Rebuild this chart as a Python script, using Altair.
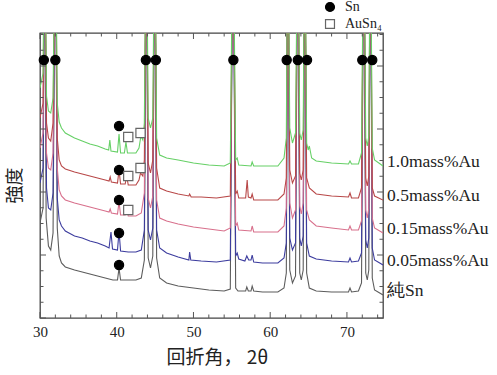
import altair as alt
import pandas as pd

# ---------------- data ----------------
series_names = ["純Sn", "0.05mass%Au", "0.15mass%Au", "0.5mass%Au", "1.0mass%Au"]
series_colors = ["#5c5c5c", "#3c3c9e", "#d8708c", "#b84848", "#66d066"]

# (2θ [deg], intensity [arb.])
pure_sn = [
    (30.0, 95), (30.4, 110), (30.6, 420), (30.8, 100), (31.1, 72), (31.4, 68), (31.7, 85),
    (32.0, 420), (32.25, 90), (32.5, 62), (32.8, 55), (33.3, 51), (34.5, 48), (35.5, 46),
    (36.5, 44), (37.5, 42), (38.5, 40), (39.5, 38), (40.1, 38), (40.3, 50), (40.5, 38),
    (41.5, 38), (42.5, 38), (43.2, 40), (43.6, 58), (43.85, 420), (44.1, 60), (44.4, 50),
    (44.7, 62), (44.95, 420), (45.2, 60), (45.6, 40), (46.5, 35), (48, 32), (50, 30),
    (52, 28), (54, 27), (54.8, 29), (55.15, 420), (55.5, 30), (55.8, 27), (56.8, 27),
    (56.95, 31), (57.15, 27), (57.5, 27), (57.65, 32), (57.85, 27), (59, 26), (61, 26),
    (61.8, 30), (62.1, 45), (62.3, 420), (62.55, 48), (62.9, 35), (63.3, 42), (63.6, 420),
    (63.85, 45), (64.05, 38), (64.3, 48), (64.5, 420), (64.75, 45), (65.1, 30), (66, 27),
    (68, 26), (70.2, 26), (70.4, 30), (70.6, 26), (71.5, 27), (71.9, 35), (72.2, 420),
    (72.45, 45), (72.65, 38), (72.85, 48), (73.05, 420), (73.3, 40), (73.6, 28), (74.7, 23),
]
au_005 = [
    (30.0, 135), (30.4, 150), (30.6, 420), (30.85, 130), (31.1, 110), (31.4, 108), (31.7, 125),
    (32.0, 420), (32.25, 120), (32.5, 98), (32.8, 92), (33.3, 87), (34.5, 82), (35.5, 80),
    (36.5, 77), (37.5, 75), (38.5, 72), (39.0, 70), (39.25, 86), (39.45, 69), (40.1, 68),
    (40.3, 87), (40.5, 67), (41.5, 66), (42.5, 66), (43.2, 68), (43.6, 88), (43.85, 420),
    (44.1, 88), (44.4, 78), (44.7, 90), (44.95, 420), (45.2, 88), (45.6, 70), (46.5, 65),
    (48, 61), (49.4, 58), (49.5, 66), (49.65, 58), (51, 57), (53, 56), (54.8, 58),
    (55.15, 420), (55.5, 62), (55.7, 65), (55.9, 59), (56.7, 57), (56.95, 62), (57.2, 58),
    (57.5, 58), (57.65, 63), (57.85, 56), (59, 55), (61, 55), (61.8, 60), (62.1, 75),
    (62.3, 420), (62.55, 80), (62.9, 68), (63.3, 75), (63.6, 420), (63.85, 80), (64.05, 72),
    (64.3, 82), (64.5, 420), (64.75, 75), (65.1, 62), (66, 59), (68, 57), (70.2, 56),
    (70.4, 60), (70.6, 56), (71.5, 57), (71.9, 65), (72.2, 420), (72.45, 78), (72.65, 70),
    (72.85, 80), (73.05, 420), (73.3, 70), (73.6, 58), (74.7, 53),
]
au_015 = [
    (30.0, 170), (30.4, 185), (30.6, 420), (30.85, 165), (31.1, 150), (31.4, 148), (31.7, 165),
    (32.0, 420), (32.25, 150), (32.5, 128), (32.8, 122), (33.3, 118), (34.5, 115), (35.5, 113),
    (36.5, 111), (37.5, 109), (38.5, 107), (39.0, 106), (39.15, 109), (39.3, 105), (40.1, 104),
    (40.3, 116), (40.5, 103), (41.1, 103), (41.3, 110), (41.5, 102), (42.5, 102), (43.2, 105),
    (43.6, 125), (43.85, 420), (44.1, 120), (44.4, 110), (44.7, 122), (44.95, 420), (45.2, 118),
    (45.6, 100), (46.5, 97), (48, 94), (50, 91), (52, 89), (54, 87), (54.8, 90), (55.15, 420),
    (55.5, 92), (55.7, 95), (55.9, 88), (57.5, 87), (57.65, 92), (57.85, 86), (59, 86),
    (61, 86), (61.8, 92), (62.1, 110), (62.3, 420), (62.55, 115), (62.9, 100), (63.3, 108),
    (63.6, 420), (63.85, 112), (64.05, 104), (64.3, 115), (64.5, 420), (64.75, 108),
    (65.1, 98), (66, 92), (68, 90), (70.2, 88), (70.4, 92), (70.6, 88), (71.5, 88),
    (71.9, 97), (72.2, 420), (72.45, 108), (72.65, 100), (72.85, 110), (73.05, 420),
    (73.3, 100), (73.6, 90), (74.7, 85),
]
au_05 = [
    (30.0, 200), (30.4, 215), (30.6, 420), (30.85, 195), (31.1, 180), (31.4, 177), (31.7, 195),
    (32.0, 420), (32.25, 180), (32.5, 158), (32.8, 152), (33.3, 149), (34.5, 146), (35.5, 144),
    (36.5, 142), (37.5, 140), (38.5, 138), (39.0, 137), (39.15, 141), (39.3, 136), (40.1, 135),
    (40.3, 148), (40.5, 134), (41.1, 134), (41.3, 142), (41.5, 133), (42.5, 133), (42.9, 138),
    (43.1, 145), (43.4, 142), (43.6, 158), (43.85, 420), (44.1, 155), (44.4, 145), (44.7, 158),
    (44.95, 420), (45.2, 150), (45.6, 130), (46.5, 127), (48, 124), (49.4, 122), (49.5, 124),
    (49.7, 121), (51, 121), (53, 120), (54.8, 122), (55.15, 420), (55.5, 124), (55.7, 127),
    (55.9, 120), (56.8, 120), (57.0, 138), (57.15, 121), (57.5, 120), (57.65, 124),
    (57.85, 118), (59, 118), (61, 118), (61.8, 124), (62.1, 140), (62.3, 420), (62.55, 148),
    (62.9, 135), (63.3, 142), (63.6, 420), (63.85, 145), (64.05, 138), (64.3, 148),
    (64.5, 420), (64.75, 140), (65.1, 130), (66, 124), (68, 122), (70.2, 121), (70.4, 125),
    (70.6, 120), (71.5, 120), (71.9, 130), (72.2, 420), (72.45, 140), (72.65, 132),
    (72.85, 142), (73.05, 420), (73.3, 130), (73.6, 122), (74.7, 118),
]
au_10 = [
    (30.0, 230), (30.4, 245), (30.6, 420), (30.85, 222), (31.1, 207), (31.4, 205), (31.7, 220),
    (32.0, 420), (32.25, 215), (32.5, 196), (32.8, 190), (33.3, 185), (34.5, 180), (35.5, 177),
    (36.5, 174), (37.5, 172), (38.5, 169), (38.95, 168), (39.1, 178), (39.25, 167), (40.1, 166),
    (40.3, 184), (40.5, 165), (41.0, 165), (41.2, 176), (41.4, 165), (42.5, 165), (42.9, 170),
    (43.15, 182), (43.4, 178), (43.6, 195), (43.85, 420), (44.1, 200), (44.4, 190), (44.7, 200),
    (44.95, 420), (45.2, 180), (45.6, 163), (46.5, 160), (48, 158), (50, 155), (52, 153),
    (54, 152), (54.8, 155), (55.15, 420), (55.5, 158), (55.7, 160), (55.9, 153), (57.5, 152),
    (57.65, 156), (57.85, 152), (59, 152), (61, 152), (61.8, 160), (62.1, 180), (62.3, 420),
    (62.55, 190), (62.9, 175), (63.3, 185), (63.6, 420), (63.85, 185), (64.05, 178),
    (64.3, 188), (64.5, 420), (64.75, 175), (64.95, 168), (65.1, 172), (65.4, 160), (66, 157),
    (68, 155), (70.2, 154), (70.4, 157), (70.6, 154), (71.5, 154), (71.9, 165), (72.2, 420),
    (72.45, 180), (72.65, 172), (72.85, 182), (73.05, 420), (73.3, 170), (73.6, 158),
    (74.7, 152),
]
traces = [pure_sn, au_005, au_015, au_05, au_10]

# phase markers
sn_peak_x = [30.5, 32.0, 43.8, 45.1, 55.2, 62.15, 63.6, 64.8, 72.0, 73.3]
sn_peak_h = [258] * len(sn_peak_x)
sn_small_x = [40.3, 40.3, 40.3, 40.3, 40.3]
sn_small_h = [53, 85, 118, 148, 192]
ausn4_x = [41.5, 43.1, 41.5, 43.1, 41.5]
ausn4_h = [181, 185, 142, 150, 108]
phase_names = ["Sn", "AuSn\u2084"]

# axis ticks
x_major_ticks = [30, 40, 50, 60, 70]
x_minor_ticks = [32, 34, 36, 38, 42, 44, 46, 48, 52, 54, 56, 58, 62, 64, 66, 68, 72, 74]
y_major_ticks = [0, 63, 126, 189, 252]
y_minor_ticks = [15.75, 31.5, 47.25, 78.75, 94.5, 110.25, 141.75, 157.5, 173.25,
                 204.75, 220.5, 236.25, 267.75, 283.5]

# ---------------- chart ----------------
W, H = 343, 285
X_DOM = [30, 74.7]
Y_DOM = [0, 285]
xs = alt.Scale(domain=X_DOM, nice=False, zero=False)
ys = alt.Scale(domain=Y_DOM, nice=False, zero=False)

X_TITLE = "回折角，  2θ"
Y_TITLE = "強度"

x_axis = alt.Axis(
    values=x_major_ticks, format="d", ticks=False, domain=False, grid=False,
    labelFont="Liberation Serif", labelFontSize=15, labelColor="#222",
    labelPadding=6, labelFlush=False,
    title=X_TITLE, titleFont="Noto Sans CJK JP", titleFontSize=19,
    titleFontWeight="normal", titleColor="#222", titlePadding=9, titleX=177)
y_axis = alt.Axis(
    labels=False, ticks=False, domain=False, grid=False,
    title=Y_TITLE, titleFont="Noto Sans CJK JP", titleFontSize=18,
    titleFontWeight="normal", titleColor="#222", titleX=-16, titleY=152)


def X(field="x"):
    return alt.X(f"{field}:Q", scale=xs, axis=x_axis, title=X_TITLE)


def Y(field="h"):
    return alt.Y(f"{field}:Q", scale=ys, axis=y_axis, title=Y_TITLE)


layers = []

# traces (gray first, green on top)
for name, color, pts in zip(series_names, series_colors, traces):
    df = pd.DataFrame({"x": [p[0] for p in pts], "h": [p[1] for p in pts]})
    df["order"] = range(len(df))
    layers.append(
        alt.Chart(df).mark_line(clip=True, color=color, strokeWidth=1.1).encode(
            x=X(), y=Y(), order="order:Q",
        )
    )

# series labels at end of each trace
lab_df = pd.DataFrame({
    "name": series_names,
    "x": [pts[-1][0] for pts in traces],
    "h": [pts[-1][1] for pts in traces],
})
layers.append(
    alt.Chart(lab_df).mark_text(align="left", baseline="middle", dx=4, dy=-4,
                                font="Liberation Serif", fontSize=17.5, color="#222").encode(
        x=X(), y=Y(), text="name:N",
    )
)

# markers
mk_df = pd.DataFrame({
    "x": sn_peak_x + sn_small_x + ausn4_x,
    "h": sn_peak_h + sn_small_h + ausn4_h,
    "kind": ["Sn"] * (len(sn_peak_x) + len(sn_small_x)) + [phase_names[1]] * len(ausn4_x),
})
leg = alt.Legend(title=None, orient="none", legendX=283, legendY=-33, padding=0,
                 symbolSize=80, symbolStrokeWidth=1.2, labelFont="Liberation Serif",
                 labelFontSize=14, labelColor="#222", labelOffset=8, rowPadding=3)
layers.append(
    alt.Chart(mk_df).mark_point(size=85, strokeWidth=1.2, opacity=1).encode(
        x=X(), y=Y(),
        shape=alt.Shape("kind:N", scale=alt.Scale(domain=phase_names, range=["circle", "square"]), legend=leg),
        fill=alt.Fill("kind:N", scale=alt.Scale(domain=phase_names, range=["#000000", "#ffffff"]), legend=leg),
        stroke=alt.Stroke("kind:N", scale=alt.Scale(domain=phase_names, range=["#000000", "#666666"]), legend=leg),
    )
)

# inward ticks on all four sides
tick_color = "#555"


def xticks(vals, length, top):
    d = pd.DataFrame({"x": vals})
    if top:
        yv, y2v = alt.value(0), alt.value(length)
    else:
        yv, y2v = alt.value(H), alt.value(H - length)
    return alt.Chart(d).mark_rule(color=tick_color, strokeWidth=1).encode(
        x=X(), y=yv, y2=y2v)


def yticks(vals, length, right):
    d = pd.DataFrame({"h": vals})
    if right:
        xv, x2v = alt.value(W), alt.value(W - length)
    else:
        xv, x2v = alt.value(0), alt.value(length)
    return alt.Chart(d).mark_rule(color=tick_color, strokeWidth=1).encode(
        y=Y(), x=xv, x2=x2v)


for top in (False, True):
    layers.append(xticks(x_major_ticks, 6, top))
    layers.append(xticks(x_minor_ticks, 3.5, top))
for right in (False, True):
    layers.append(yticks(y_major_ticks, 6, right))
    layers.append(yticks(y_minor_ticks, 3.5, right))

chart = alt.layer(*layers).properties(
    width=W, height=H,
    autosize=alt.AutoSizeParams(type="none"),
    padding={"left": 40, "top": 33, "right": 114, "bottom": 57},
    background="white",
).configure_view(stroke="#444", strokeWidth=1.3)

chart.save("out.html", embed_options={"renderer": "svg", "actions": False})
